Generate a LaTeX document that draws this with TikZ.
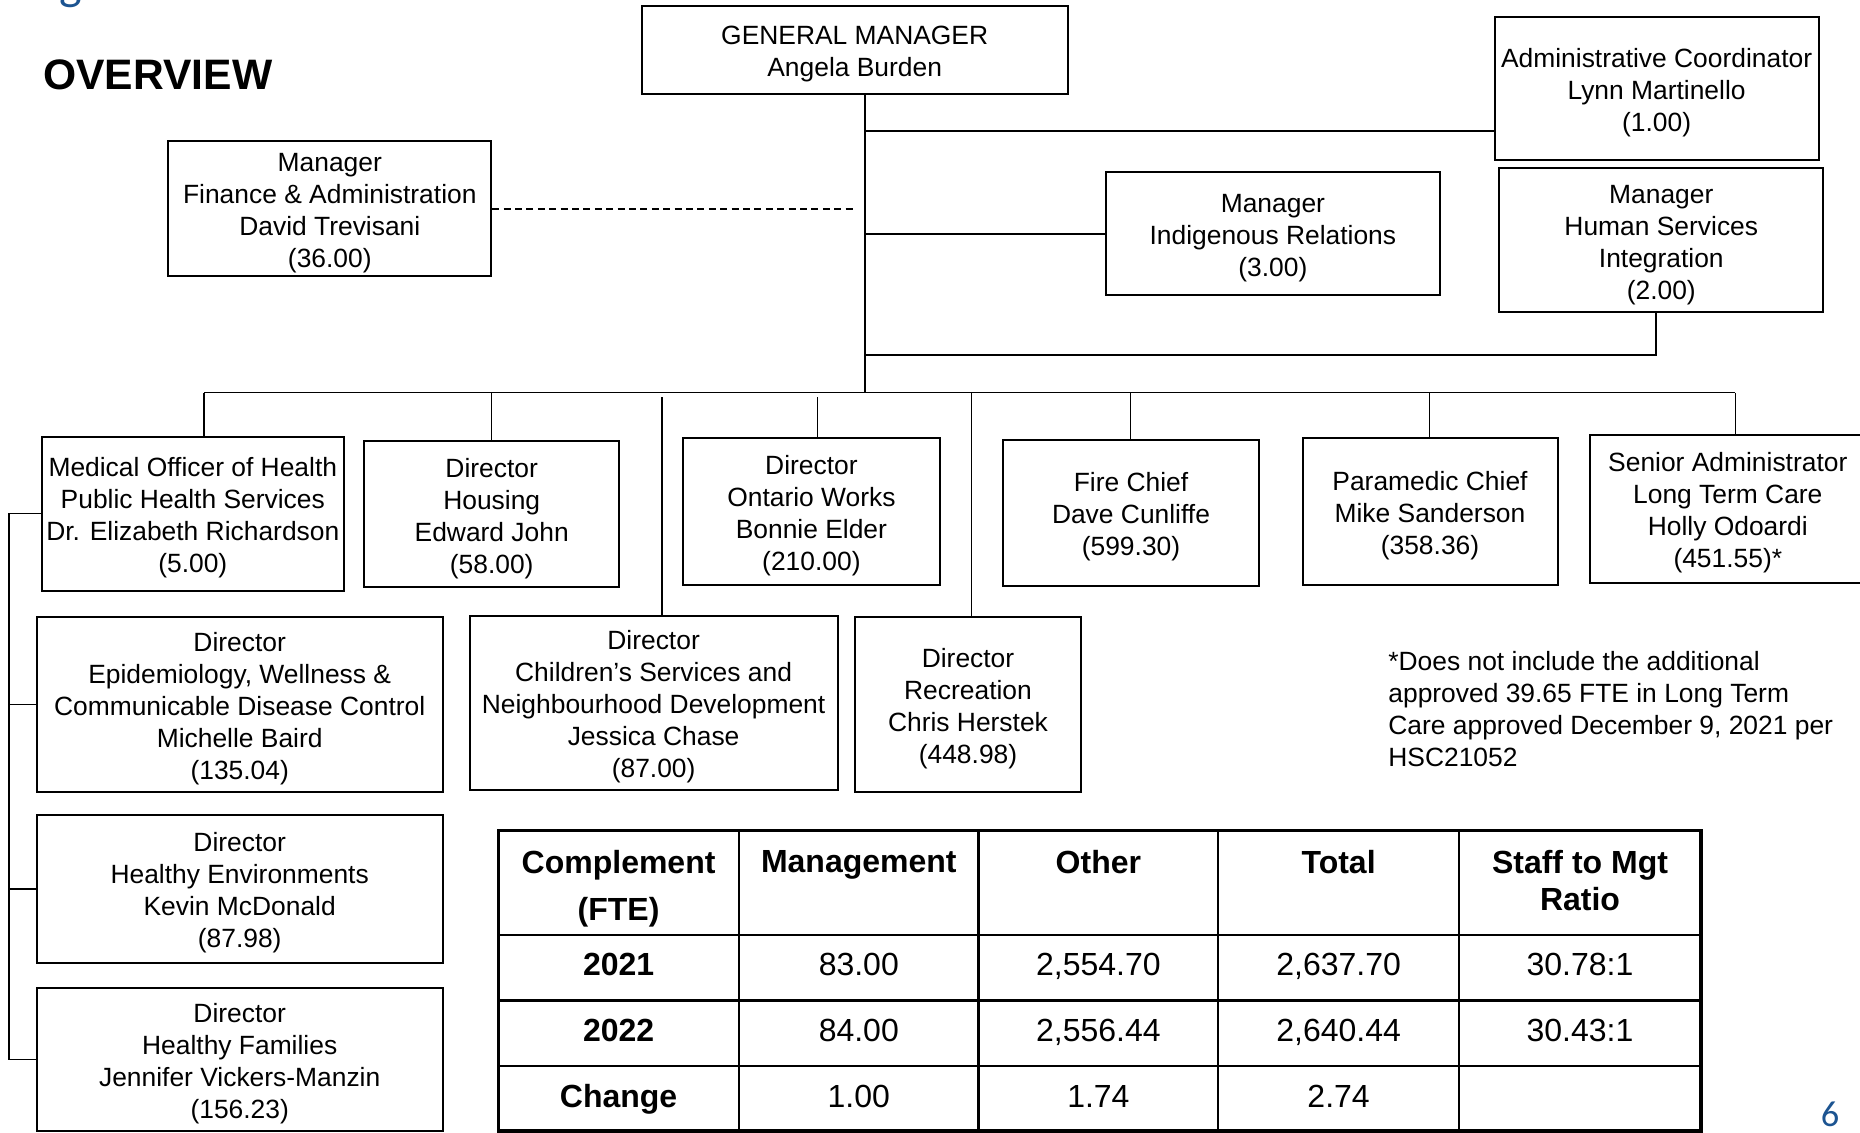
\documentclass[tikz,border=0pt]{standalone}
\usepackage{fontspec}
\setmainfont{Liberation Sans}
\newfontfamily\pagefont{Carlito}
\usetikzlibrary{positioning}
\definecolor{pageblue}{RGB}{28,84,145}
\newcommand{\boxtop}{\rule{0pt}{13.6pt}}
\tikzstyle{box} = [rectangle, draw, line width=1pt, align=center, inner sep=1pt,
  font=\fontsize{13.2}{16}\selectfont]
\tikzstyle{line} = [draw, line width=0.85pt]
\tikzstyle{dashline} = [draw, line width=0.85pt, dash pattern=on 3.5pt off 2.2pt]
\tikzstyle{cell} = [anchor=base, inner sep=0pt, font=\fontsize{16}{18.6}\selectfont]
\tikzstyle{headcell} = [inner sep=0pt, align=center, font=\fontsize{16}{18.6}\selectfont\bfseries]
\tikzstyle{outerrule} = [draw, line width=1.7pt]
\tikzstyle{innerrule} = [draw, line width=1.2pt]

\begin{document}
\begin{tikzpicture}[x=0.5pt, y=-0.5pt]
\useasboundingbox (0,0) rectangle (1860,1132);
% heading and page number
 \node [anchor=base, inner sep=0pt, text=pageblue, font=\pagefont\fontsize{24}{24}\selectfont] (pagehead) at (71,-1) {g};
 \node [anchor=base west, inner sep=0pt, font=\fontsize{21.3}{26}\selectfont\bfseries] (title) at (43,89.3) {OVERVIEW};
 \node [anchor=base, inner sep=0pt, text=pageblue, font=\pagefont\fontsize{18.2}{20}\selectfont] (pagenum) at (1830,1126.5) {6};
% top level
 \node [box, minimum width=213pt, minimum height=43.9pt] (gm) at (854.7,49.8) {\boxtop GENERAL MANAGER\\Angela Burden};
 \node [box, minimum width=162pt, minimum height=71.8pt] (admin) at (1656.6,88.4) {\boxtop Administrative Coordinator\\Lynn Martinello\\(1.00)};
 \node [box, minimum width=161.4pt, minimum height=67.6pt] (fin) at (329.8,208.8) {\boxtop Manager\\Finance \& Administration\\David Trevisani\\(36.00)};
 \node [box, minimum width=167.3pt, minimum height=61.7pt] (indig) at (1272.9,233.7) {\boxtop Manager\\Indigenous Relations\\(3.00)};
 \node [box, minimum width=161.9pt, minimum height=71.8pt] (hsi) at (1661.3,240.2) {\boxtop Manager\\Human Services\\Integration\\(2.00)};
% directors
 \node [box, minimum width=151.3pt, minimum height=77.1pt] (moh) at (192.8,513.6) {\boxtop Medical Officer of Health\\Public Health Services\\Dr. Elizabeth Richardson\\(5.00)};
 \node [box, minimum width=127.5pt, minimum height=73pt] (hous) at (491.7,514.3) {\boxtop Director\\Housing\\Edward John\\(58.00)};
 \node [box, minimum width=128.1pt, minimum height=73.6pt] (ow) at (811.4,511.3) {\boxtop Director\\Ontario Works\\Bonnie Elder\\(210.00)};
 \node [box, minimum width=127.6pt, minimum height=73pt] (fire) at (1131,513) {\boxtop Fire Chief\\Dave Cunliffe\\(599.30)};
 \node [box, minimum width=127.5pt, minimum height=73.6pt] (para) at (1430,511.3) {\boxtop Paramedic Chief\\Mike Sanderson\\(358.36)};
 \node [box, minimum width=138.3pt, minimum height=73.6pt] (ltc) at (1727.8,508.9) {\boxtop Senior Administrator\\Long Term Care\\Holly Odoardi\\(451.55)*};
 \node [box, minimum width=202.9pt, minimum height=87.8pt] (epi) at (239.7,704.6) {\boxtop Director\\Epidemiology, Wellness \&\\Communicable Disease Control\\Michelle Baird\\(135.04)};
 \node [box, minimum width=183.9pt, minimum height=87.2pt] (child) at (653.6,702.8) {\boxtop Director\\Children’s Services and\\Neighbourhood Development\\Jessica Chase\\(87.00)};
 \node [box, minimum width=112.7pt, minimum height=87.8pt] (rec) at (968,704.6) {\boxtop Director\\Recreation\\Chris Herstek\\(448.98)};
 \node [box, minimum width=202.9pt, minimum height=73.8pt] (henv) at (239.7,888.7) {\boxtop Director\\Healthy Environments\\Kevin McDonald\\(87.98)};
 \node [box, minimum width=202.9pt, minimum height=71.5pt] (hfam) at (239.7,1059.5) {\boxtop Director\\Healthy Families\\Jennifer Vickers-Manzin\\(156.23)};
% footnote
 \node [anchor=north west, align=left, inner sep=0pt, font=\fontsize{13.2}{16}\selectfont] (note) at (1388,651.2) {*Does not include the additional\\approved 39.65 FTE in Long Term\\Care approved December 9, 2021 per\\HSC21052};
% connectors
 \coordinate (trunk) at (865,392.6);
 \coordinate (adm) at (865,131);
 \coordinate (dashend) at (853,210);
 \coordinate (hsitie) at (1656,355);
 \coordinate (side) at (9,514);
 \path [line] (gm.south -| trunk) -- (trunk);
 \path [line] (204,392.6) -- (1735.4,392.6);
 \path [line] (adm) -- (adm -| admin.west);
 \path [dashline] (fin.east) -- (fin.east -| dashend);
 \path [line] (indig.west) -- (indig.west -| trunk);
 \path [line] (hsi.south -| hsitie) -- (hsitie) -- (hsitie -| trunk);
 \foreach \n/\x/\t in {moh/204/392.6, hous/491.5/392.6, ow/817.5/397, fire/1130.5/392.6,
   para/1429.5/392.6, ltc/1735.4/392.6, child/662/397, rec/971.5/392.6}{
   \coordinate (drop) at (\x,\t);
   \path [line] (drop) -- (drop |- \n.north);
 }
 \path [line] (moh.west) -- (moh.west -| side) -- (side |- hfam.west) -- (hfam.west);
 \path [line] (epi.west) -- (epi.west -| side);
 \path [line] (henv.west) -- (henv.west -| side);
% complement table
 \foreach \y in {934.7,1000.5,1066} \path [innerrule] (498.2,\y) -- (1701,\y);
 \foreach \x in {739,978.6,1218.2,1459} \path [innerrule] (\x,830.4) -- (\x,1131);
 \path [outerrule] (498.2,830.4) rectangle (1701,1131);
 \node [headcell, anchor=north] (hcomp) at (618.6,850) {Complement\\[4.7pt](FTE)};
 \node [headcell, anchor=north] (hmgt) at (858.8,850) {Management};
 \node [headcell, anchor=north] (hoth) at (1098.4,850) {Other};
 \node [headcell, anchor=north] (htot) at (1338.6,850) {Total};
 \node [headcell, anchor=north] (hrat) at (1580,850) {Staff to Mgt\\Ratio};
 \node [headcell, anchor=base] (yr21) at (618.6,975) {2021};
 \node [cell] (mgt21) at (858.8,975) {83.00};
 \node [cell] (oth21) at (1098.4,975) {2,554.70};
 \node [cell] (tot21) at (1338.6,975) {2,637.70};
 \node [cell] (rat21) at (1580,975) {30.78:1};
 \node [headcell, anchor=base] (yr22) at (618.6,1041) {2022};
 \node [cell] (mgt22) at (858.8,1041) {84.00};
 \node [cell] (oth22) at (1098.4,1041) {2,556.44};
 \node [cell] (tot22) at (1338.6,1041) {2,640.44};
 \node [cell] (rat22) at (1580,1041) {30.43:1};
 \node [headcell, anchor=base] (chg) at (618.6,1107.7) {Change};
 \node [cell] (mgtchg) at (858.8,1107.7) {1.00};
 \node [cell] (othchg) at (1098.4,1107.7) {1.74};
 \node [cell] (totchg) at (1338.6,1107.7) {2.74};
\end{tikzpicture}
\end{document}
